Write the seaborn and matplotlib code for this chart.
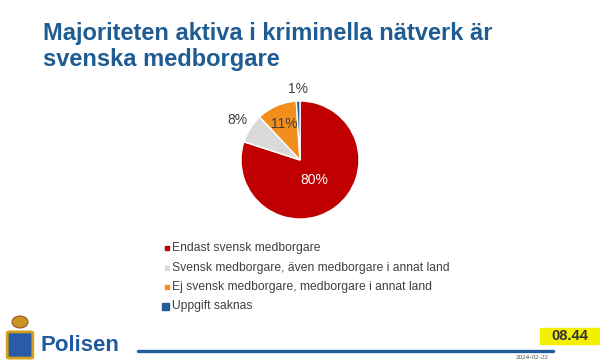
import numpy as np
import matplotlib
matplotlib.use("Agg")
import matplotlib.pyplot as plt
import matplotlib.patches as mpatches
import seaborn as sns

# ---- data ----
categories = [
    "Endast svensk medborgare",
    "Svensk medborgare, även medborgare i annat land",
    "Ej svensk medborgare, medborgare i annat land",
    "Uppgift saknas",
]
values = [80, 8, 11, 1]
pct_labels = ["80%", "8%", "11%", "1%"]
colors = ["#C00000", "#D9D9D9", "#F28E1E", "#1F5C99"]
label_colors = ["white", "#404040", "#404040", "#404040"]
label_radius = [0.42, 1.26, 0.66, 1.2]
title_lines = ["Majoriteten aktiva i kriminella nätverk är", "svenska medborgare"]

sns.set_theme(style="white")
plt.rcParams["font.family"] = ["Liberation Sans", "DejaVu Sans"]

W, H = 600, 362
fig = plt.figure(figsize=(W / 100, H / 100), dpi=100)
fig.patch.set_facecolor("white")

def fx(x):
    return x / W

def fy(y):
    return 1 - y / H

# title
blue = "#1F5C92"
fig.text(fx(43), fy(40), title_lines[0], fontsize=17, fontweight="bold", color=blue, va="baseline")
fig.text(fx(43), fy(66), title_lines[1], fontsize=17, fontweight="bold", color=blue, va="baseline")

# pie
cx, cy, r = 300, 160, 59
ax = fig.add_axes([fx(cx - r), fy(cy + r), 2 * r / W, 2 * r / H])
wedges, _ = ax.pie(values, colors=colors, startangle=90, counterclock=False,
                   wedgeprops=dict(edgecolor="white", linewidth=1.0))
ax.set_xlim(-1, 1)
ax.set_ylim(-1, 1)
ax.set_aspect("equal")
ax.axis("off")
for w, lab, c, rr in zip(wedges, pct_labels, label_colors, label_radius):
    mid = np.deg2rad((w.theta1 + w.theta2) / 2)
    ax.text(rr * np.cos(mid), rr * np.sin(mid), lab, ha="center", va="center",
            fontsize=10, color=c)

# legend
leg_y = [248, 268, 287, 306]
marker_size = [4.5, 4.5, 4.5, 7]
for cat, col, y, ms in zip(categories, colors, leg_y, marker_size):
    fig.patches.append(mpatches.Rectangle((fx(169 - ms), fy(y + ms / 2)), ms / W, ms / H,
                                          transform=fig.transFigure, color=col))
    fig.text(fx(172), fy(y), cat, fontsize=8.7, color="#404040", va="center")

# footer
# simple crest
fig.patches.append(mpatches.FancyBboxPatch((fx(9), fy(357)), 22 / W, 24 / H,
                                           boxstyle="round,pad=0.003",
                                           transform=fig.transFigure,
                                           facecolor="#2A5BA8", edgecolor="#D4A017", linewidth=2))
fig.patches.append(mpatches.Ellipse((fx(20), fy(322)), 16 / W, 12 / H,
                                    transform=fig.transFigure,
                                    facecolor="#C8951E", edgecolor="#A0522D", linewidth=0.8))
fig.text(fx(40), fy(351), "Polisen", fontsize=16, fontweight="bold", color="#1F5A9E", va="baseline")
fig.add_artist(plt.Line2D([fx(138), fx(553)], [fy(350.5), fy(350.5)], color="#1F5C99", linewidth=2.4))
fig.patches.append(mpatches.Rectangle((fx(540), fy(344)), 60 / W, 16 / H,
                                      transform=fig.transFigure, color="#F5F000"))
fig.text(fx(570), fy(336), "08.44", fontsize=10.5, fontweight="bold", color="#333333",
         ha="center", va="center")
fig.text(fx(532), fy(357.5), "2024-02-22", fontsize=5, color="#444444", ha="center",
         va="center", family=["Liberation Serif", "DejaVu Serif"])

fig.savefig("out.png", dpi=100)
